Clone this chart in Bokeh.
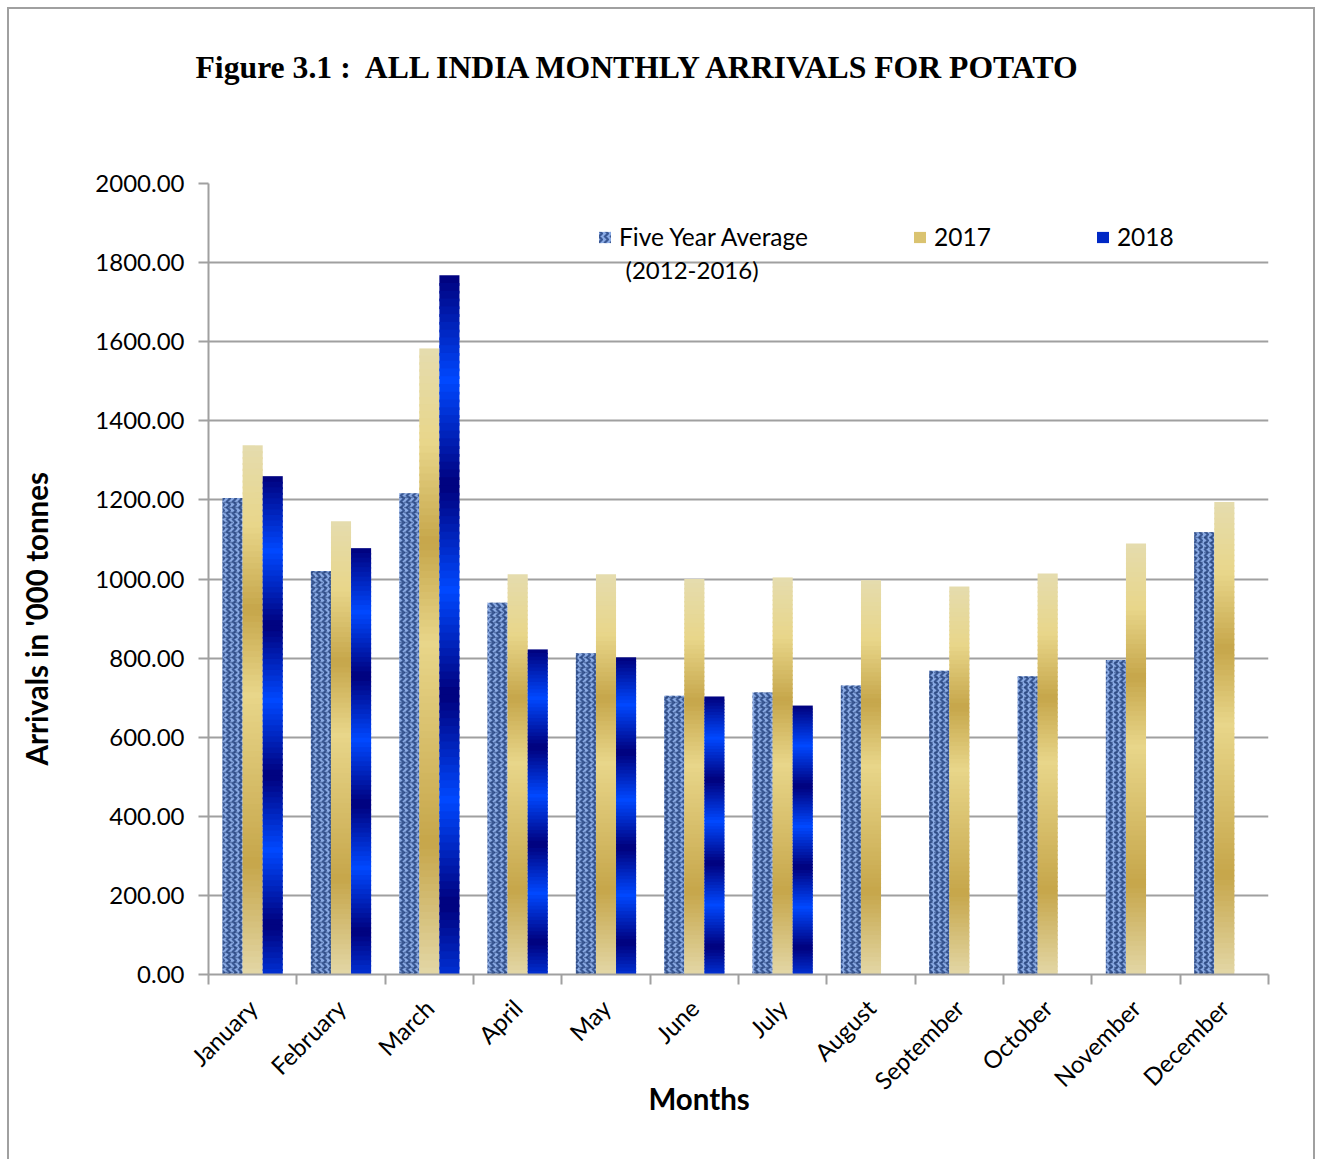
from math import pi
import numpy as np
from bokeh.plotting import figure
from bokeh.models import (Range1d, FixedTicker, PrintfTickFormatter, ColumnDataSource,
                          Legend, LegendItem, Label, Title)
from bokeh.embed import file_html
from bokeh.resources import INLINE

# ---------------- data ----------------
months = ["January", "February", "March", "April", "May", "June", "July",
          "August", "September", "October", "November", "December"]
five_year_avg = [1205, 1020, 1217, 940, 812, 705, 713, 731, 768, 754, 795, 1118]
arrivals_2017 = [1338, 1146, 1583, 1012, 1012, 1000, 1004, 997, 981, 1014, 1090, 1195]
arrivals_2018 = [1260, 1078, 1768, 822, 802, 703, 680]
y_ticks = [0, 200, 400, 600, 800, 1000, 1200, 1400, 1600, 1800, 2000]

title_text = "Figure 3.1 :\u00a0 ALL INDIA MONTHLY ARRIVALS FOR POTATO"
y_title = "Arrivals in '000 tonnes"
x_title = "Months"

# ---------------- helpers ----------------
def hex2rgb(h):
    h = h.lstrip("#")
    return [int(h[i:i + 2], 16) for i in (0, 2, 4)]

def rgb2hex(c):
    return "#%02x%02x%02x" % tuple(int(round(v)) for v in c)

def interp_stops(stops, f):
    for (f0, c0), (f1, c1) in zip(stops[:-1], stops[1:]):
        if f0 <= f <= f1:
            t = 0 if f1 == f0 else (f - f0) / (f1 - f0)
            a, b = hex2rgb(c0), hex2rgb(c1)
            return rgb2hex([a[i] + (b[i] - a[i]) * t for i in range(3)])
    return stops[-1][1]

gold_stops = [(0.0, "#e5dcae"), (0.15, "#e8d68a"), (0.31, "#c6a64a"), (0.47, "#e8d68a"),
              (0.79, "#c6a64a"), (1.0, "#e3d7a6")]

def gold(f):
    return interp_stops(gold_stops, f)

def blue(f):
    u = (f / 0.15) % 2.0
    b = u if u <= 1 else 2 - u
    return interp_stops([(0.0, "#00007c"), (1.0, "#0048ff")], b)

def gradient_source(xs, values, color_fn, n=90):
    x, bot, top, col = [], [], [], []
    for xi, v in zip(xs, values):
        for k in range(n):
            f0, f1 = k / n, (k + 1) / n
            x.append(xi)
            top.append(v * (1 - f0))
            bot.append(max(0.0, v * (1 - f1) - v * 0.004))
            col.append(color_fn((f0 + f1) / 2))
    return ColumnDataSource(dict(x=x, bottom=bot, top=top, color=col))

# ---------------- figure ----------------
W, H = 1308, 1162
p = figure(width=W, height=H, x_range=Range1d(0, 12), y_range=Range1d(0, 2000),
           output_backend="svg", toolbar_location=None, title=None,
           min_border_left=199, min_border_right=49, min_border_top=174, min_border_bottom=197)
p.outline_line_color = None
p.background_fill_color = "white"
p.border_fill_color = "white"
p.styles = {"border": "2px solid #a0a0a0", "margin-left": "7px", "margin-top": "7px"}

centers = np.arange(len(months)) + 0.5
bar_w = 20.0 / 88.0

r5 = p.vbar(x=centers - bar_w, top=five_year_avg, width=bar_w,
            fill_color="#8aaae4", line_color=None,
            hatch_pattern="vertical_wave", hatch_color="#2b4a86", hatch_scale=6, hatch_weight=2.2,
            hatch_alpha=0.85)
p.vbar(x=centers - bar_w, top=five_year_avg, width=bar_w,
       fill_color=None, line_color=None,
       hatch_pattern="horizontal_dash", hatch_color="#1f3a70", hatch_scale=5, hatch_weight=1.5,
       hatch_alpha=0.5)

n = 90
src17 = gradient_source(centers, arrivals_2017, gold, n)
r17 = p.vbar(x="x", bottom="bottom", top="top", width=bar_w, fill_color="color",
             line_color=None, source=src17)

src18 = gradient_source(centers[:len(arrivals_2018)] + bar_w, arrivals_2018, blue, n)
r18 = p.vbar(x="x", bottom="bottom", top="top", width=bar_w, fill_color="color",
             line_color=None, source=src18)

# ---------------- axes ----------------
grey = "#a0a0a0"
p.yaxis.ticker = FixedTicker(ticks=y_ticks)
p.yaxis.formatter = PrintfTickFormatter(format="%.2f")
p.yaxis.axis_line_color = grey
p.yaxis.axis_line_width = 2
p.yaxis.major_tick_line_color = grey
p.yaxis.major_tick_line_width = 2
p.yaxis.major_tick_out = 10
p.yaxis.major_tick_in = 0
p.yaxis.minor_tick_line_color = None
p.yaxis.major_label_text_font = "Lato"
p.yaxis.major_label_text_font_size = "24px"
p.yaxis.major_label_text_color = "black"
p.yaxis.major_label_standoff = 14

p.xaxis.ticker = FixedTicker(ticks=list(centers), minor_ticks=list(range(len(months) + 1)))
p.xaxis.major_label_overrides = {float(c): m for c, m in zip(centers, months)}
p.xaxis.axis_line_color = grey
p.xaxis.axis_line_width = 2
p.xaxis.major_tick_line_color = None
p.xaxis.major_tick_out = 0
p.xaxis.major_tick_in = 0
p.xaxis.minor_tick_line_color = grey
p.xaxis.minor_tick_line_width = 2
p.xaxis.minor_tick_out = 10
p.xaxis.minor_tick_in = 0
p.xaxis.major_label_orientation = pi / 4
p.xaxis.major_label_text_font = "Lato"
p.xaxis.major_label_text_font_size = "24px"
p.xaxis.major_label_text_color = "black"
p.xaxis.major_label_standoff = 19
p.xaxis.axis_label = x_title + "\u00a0" * 11
p.xaxis.axis_label_text_font = "Lato"
p.xaxis.axis_label_text_font_style = "bold"
p.xaxis.axis_label_text_font_size = "29.5px"
p.xaxis.axis_label_text_color = "black"
p.xaxis.axis_label_standoff = -27

p.xgrid.visible = False
p.ygrid.ticker = FixedTicker(ticks=y_ticks)
p.ygrid.grid_line_color = grey
p.ygrid.grid_line_width = 2

# ---------------- legend ----------------
legend = Legend(items=[
    LegendItem(label="Five Year Average", renderers=[r5], index=0),
    LegendItem(label="2017", renderers=[r17], index=int(n * 0.4)),
    LegendItem(label="2018", renderers=[r18], index=int(n * 0.08)),
], orientation="horizontal", location=(389, 723), glyph_width=15, glyph_height=14,
    label_standoff=7, spacing=104, padding=0, margin=0, border_line_color=None,
    background_fill_alpha=0, label_text_font="Lato", label_text_font_size="24.5px",
    label_text_color="black")
p.add_layout(legend, "center")

p.add_layout(Label(x=417, y=705, x_units="screen", y_units="screen", text="(2012-2016)",
                   text_font="Lato", text_font_size="24px", text_color="black",
                   text_baseline="middle", text_align="left"))

# ---------------- titles (spacers keep them at their place) ----------------
p.add_layout(Title(text="\u00a0", standoff=86, text_font_size="10px", text_color="white"), "above")
p.add_layout(Title(text=title_text, align="left", offset=-13, standoff=0,
                   text_font="Liberation Serif", text_font_style="bold",
                   text_font_size="31.7px", text_color="black"), "above")

p.add_layout(Title(text="\u00a0", standoff=26, text_font_size="10px", text_color="white"), "left")
p.add_layout(Title(text=y_title, align="left", offset=209, standoff=0,
                   text_font="Lato", text_font_style="bold", text_font_size="29.5px",
                   text_color="black"), "left")

open("out.html", "w").write(file_html(p, INLINE))
